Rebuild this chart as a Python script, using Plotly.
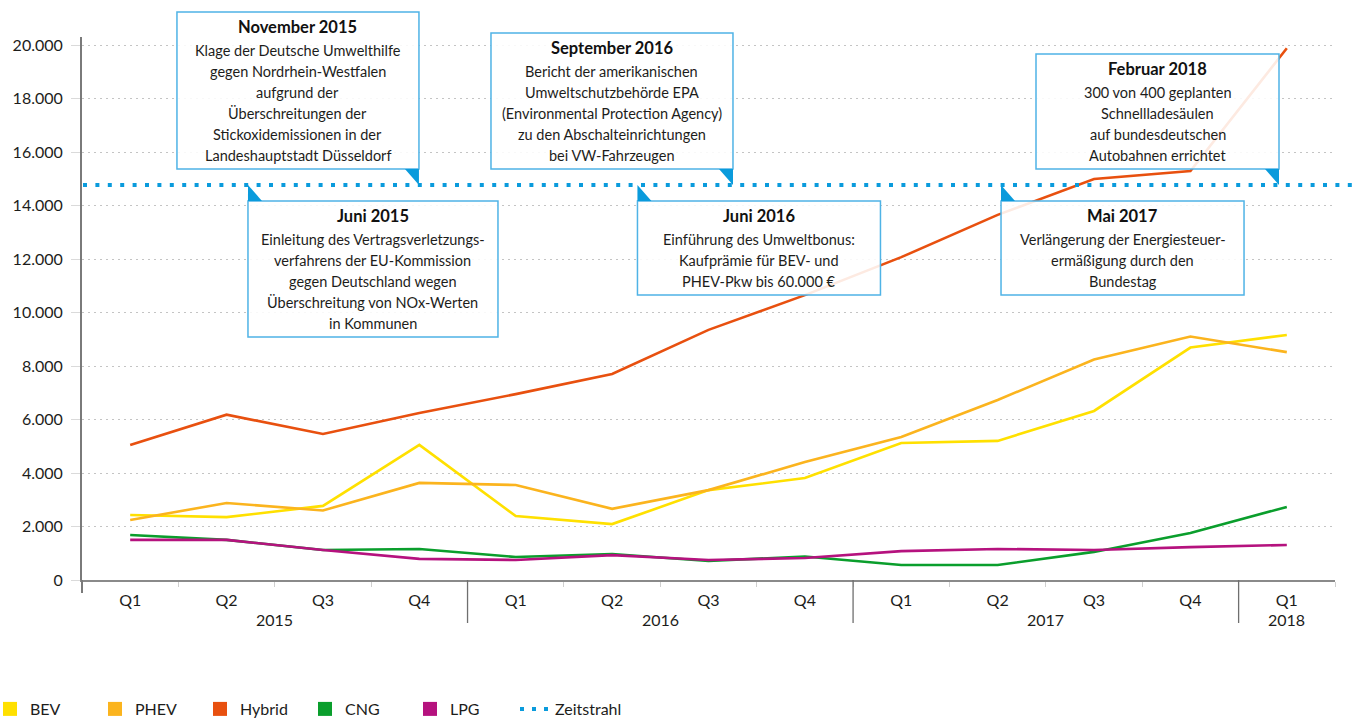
import plotly.graph_objects as go

# ---------------- data ----------------
quarters = ["Q1", "Q2", "Q3", "Q4", "Q1", "Q2", "Q3", "Q4", "Q1", "Q2", "Q3", "Q4", "Q1"]
years = ["2015"] * 4 + ["2016"] * 4 + ["2017"] * 4 + ["2018"]

bev = [2430, 2350, 2770, 5050, 2390, 2090, 3360, 3810, 5120, 5200, 6320, 8690, 9160]
phev = [2240, 2880, 2600, 3630, 3550, 2660, 3360, 4410, 5350, 6730, 8240, 9100, 8520]
hybrid = [5050, 6180, 5460, 6240, 6950, 7700, 9350, 10650, 12070, 13650, 14990, 15290, 19880]
cng = [1680, 1500, 1120, 1160, 860, 970, 710, 880, 560, 560, 1050, 1760, 2730]
lpg = [1500, 1500, 1120, 790, 750, 930, 750, 820, 1080, 1160, 1120, 1230, 1310]

series_names = ["BEV", "PHEV", "Hybrid", "CNG", "LPG"]
series_values = [bev, phev, hybrid, cng, lpg]
series_colors = ["#FFE000", "#FBB41E", "#E8500F", "#0A9E2C", "#B5127E"]

timeline_name = "Zeitstrahl"
timeline_value = 14770

# events on the timeline: position in quarter-index units
event_titles = ["Juni 2015", "November 2015", "Juni 2016", "September 2016", "Mai 2017", "Februar 2018"]
event_pos = [1.222, 2.996, 5.263, 6.254, 9.035, 11.919]
event_side = ["below", "above", "below", "above", "below", "above"]
event_texts = [
    ["Einleitung des Vertragsverletzungs-", "verfahrens der EU-Kommission",
     "gegen Deutschland wegen", "Überschreitung von NOx-Werten", "in Kommunen"],
    ["Klage der Deutsche Umwelthilfe", "gegen Nordrhein-Westfalen", "aufgrund der",
     "Überschreitungen der", "Stickoxidemissionen in der", "Landeshauptstadt Düsseldorf"],
    ["Einführung des Umweltbonus:", "Kaufprämie für BEV- und", "PHEV-Pkw bis 60.000 €"],
    ["Bericht der amerikanischen", "Umweltschutzbehörde EPA",
     "(Environmental Protection Agency)", "zu den Abschalteinrichtungen", "bei VW-Fahrzeugen"],
    ["Verlängerung der Energiesteuer-", "ermäßigung durch den", "Bundestag"],
    ["300 von 400 geplanten", "Schnellladesäulen", "auf bundesdeutschen", "Autobahnen errichtet"],
]
event_widths = [250, 242, 243, 242, 243, 243]

# ---------------- geometry ----------------
W, H = 1357, 720
ML, MR, MT, MB = 82, 22, 37, 140
PW, PH = W - ML - MR, H - MT - MB
XR = (-0.5, 12.5)
YR = (0, 20300)

FONT = "Lato, 'Source Sans Pro', 'Open Sans', sans-serif"
TXT = "#1d1d1b"
BLUE = "#0A9BDC"
BORDER = "#4FB3E6"


def xpx(xd):
    return ML + (xd - XR[0]) / (XR[1] - XR[0]) * PW


def ypx(yd):
    return MT + (YR[1] - yd) / (YR[1] - YR[0]) * PH


def px_x(p):
    return (p - ML) / PW


def px_y(p):
    return (H - MB - p) / PH


xcat = [q + " " + y for q, y in zip(quarters, years)]

fig = go.Figure()

for name, vals, col in zip(series_names, series_values, series_colors):
    fig.add_trace(go.Scatter(x=xcat, y=vals, mode="lines", name=name,
                             line=dict(color=col, width=2.6), showlegend=False,
                             hoverinfo="x+y+name"))

# legend-only entries (square swatches)
for name, col in zip(series_names, series_colors):
    fig.add_trace(go.Scatter(x=[xcat[0]], y=[None], mode="markers", name=name,
                             marker=dict(symbol="square", size=14, color=col),
                             showlegend=True, hoverinfo="skip"))
fig.add_trace(go.Scatter(x=[xcat[0]], y=[None], mode="lines", name=timeline_name,
                         line=dict(color=BLUE, width=4, dash="4px,8px"), showlegend=True,
                         hoverinfo="skip"))
# invisible spacer entry so that the last legend label is not clipped
fig.add_trace(go.Scatter(x=[xcat[0]], y=[None], mode="markers", name="\u00a0",
                         marker=dict(size=1, color="rgba(0,0,0,0)"), showlegend=True,
                         hoverinfo="skip"))

shapes = []
annotations = []

# year dividers below the axis (between groups only) and year labels
groups = []
for i, yv in enumerate(years):
    if not groups or groups[-1][0] != yv:
        groups.append([yv, i, i])
    else:
        groups[-1][2] = i
for gi, (yv, i0, i1) in enumerate(groups):
    annotations.append(dict(xref="paper", yref="paper", x=px_x(xpx((i0 + i1) / 2)),
                            y=px_y(H - MB + 39), text=yv, showarrow=False,
                            xanchor="center", yanchor="middle",
                            font=dict(family=FONT, size=16, color=TXT)))
    if gi > 0:
        xb = px_x(xpx(i0 - 0.5))
        shapes.append(dict(type="line", xref="paper", yref="paper", x0=xb, x1=xb,
                           y0=0, y1=px_y(H - MB + 43), line=dict(color="#6f6f6f", width=1.3)))
# short extension of the y axis below the baseline
shapes.append(dict(type="line", xref="paper", yref="paper", x0=0, x1=0,
                   y0=0, y1=px_y(H - MB + 13), line=dict(color="#7a7a7a", width=2)))

# timeline
ty = ypx(timeline_value)
shapes.append(dict(type="line", xref="paper", yref="paper",
                   x0=px_x(ML + 1), x1=px_x(W - 2), y0=px_y(ty), y1=px_y(ty),
                   line=dict(color=BLUE, width=4, dash="4px,8.4px"), layer="above"))

for title, pos, side, lines, bw in zip(event_titles, event_pos, event_side, event_texts, event_widths):
    ax = xpx(pos)
    n = len(lines)
    h = 39 + 21 * (n - 1) + 13
    if side == "above":
        bottom = ty - 16
        top = bottom - h
        right = ax
        left = ax - bw
        tri = [(ax - 14, bottom), (ax, bottom), (ax, ty)]
    else:
        top = ty + 16
        bottom = top + h
        left = ax
        right = ax + bw
        tri = [(ax, ty), (ax, top), (ax + 14, top)]
    shapes.append(dict(type="rect", xref="paper", yref="paper",
                       x0=px_x(left), x1=px_x(right), y0=px_y(bottom), y1=px_y(top),
                       line=dict(color=BORDER, width=1.5),
                       fillcolor="rgba(255,255,255,0.88)", layer="above"))
    path = "M {} {} L {} {} L {} {} Z".format(*[v for p in tri for v in (px_x(p[0]), px_y(p[1]))])
    shapes.append(dict(type="path", xref="paper", yref="paper", path=path,
                       fillcolor=BLUE, line=dict(width=0), layer="above"))
    cx = px_x((left + right) / 2)
    annotations.append(dict(xref="paper", yref="paper", x=cx, y=px_y(top + 15),
                            text="<b>" + title + "</b>", showarrow=False,
                            xanchor="center", yanchor="middle",
                            font=dict(family=FONT, size=16.5, color="#111")))
    for i, ln in enumerate(lines):
        annotations.append(dict(xref="paper", yref="paper", x=cx, y=px_y(top + 39 + 21 * i),
                                text=ln, showarrow=False, xanchor="center", yanchor="middle",
                                font=dict(family=FONT, size=14.5, color=TXT)))

fig.update_layout(
    width=W, height=H,
    margin=dict(l=ML, r=MR, t=MT, b=MB, pad=0, autoexpand=False),
    paper_bgcolor="white", plot_bgcolor="white",
    separators=",.",
    font=dict(family=FONT, size=16, color=TXT),
    shapes=shapes, annotations=annotations,
    showlegend=True,
    legend=dict(orientation="h", x=px_x(-10), y=px_y(709), xanchor="left", yanchor="middle",
                font=dict(family=FONT, size=16, color=TXT),
                entrywidth=60, entrywidthmode="pixels", itemclick=False,
                bgcolor="rgba(0,0,0,0)"),
    hovermode="closest",
)

fig.update_xaxes(
    type="category", range=list(XR), automargin=False,
    tickvals=xcat, ticktext=quarters,
    showline=True, linecolor="#8a8a8a", linewidth=2,
    showgrid=False, zeroline=False,
    ticks="outside", ticklen=5, tickcolor="#cfcfcf", tickwidth=1, tickson="boundaries",
    ticklabelstandoff=5,
    tickfont=dict(family=FONT, size=16, color=TXT),
)
fig.update_yaxes(
    range=list(YR), tickvals=list(range(0, 20001, 2000)), tickformat=",d", automargin=False,
    showline=True, linecolor="#7a7a7a", linewidth=2,
    showgrid=True, gridcolor="#c4c4c4", gridwidth=1, griddash="2px,4px",
    zeroline=False,
    ticks="outside", ticklen=9, tickcolor="#dadada", tickwidth=1,
    ticklabelstandoff=5,
    tickfont=dict(family=FONT, size=16, color=TXT),
)

fig.write_html("out.html")
